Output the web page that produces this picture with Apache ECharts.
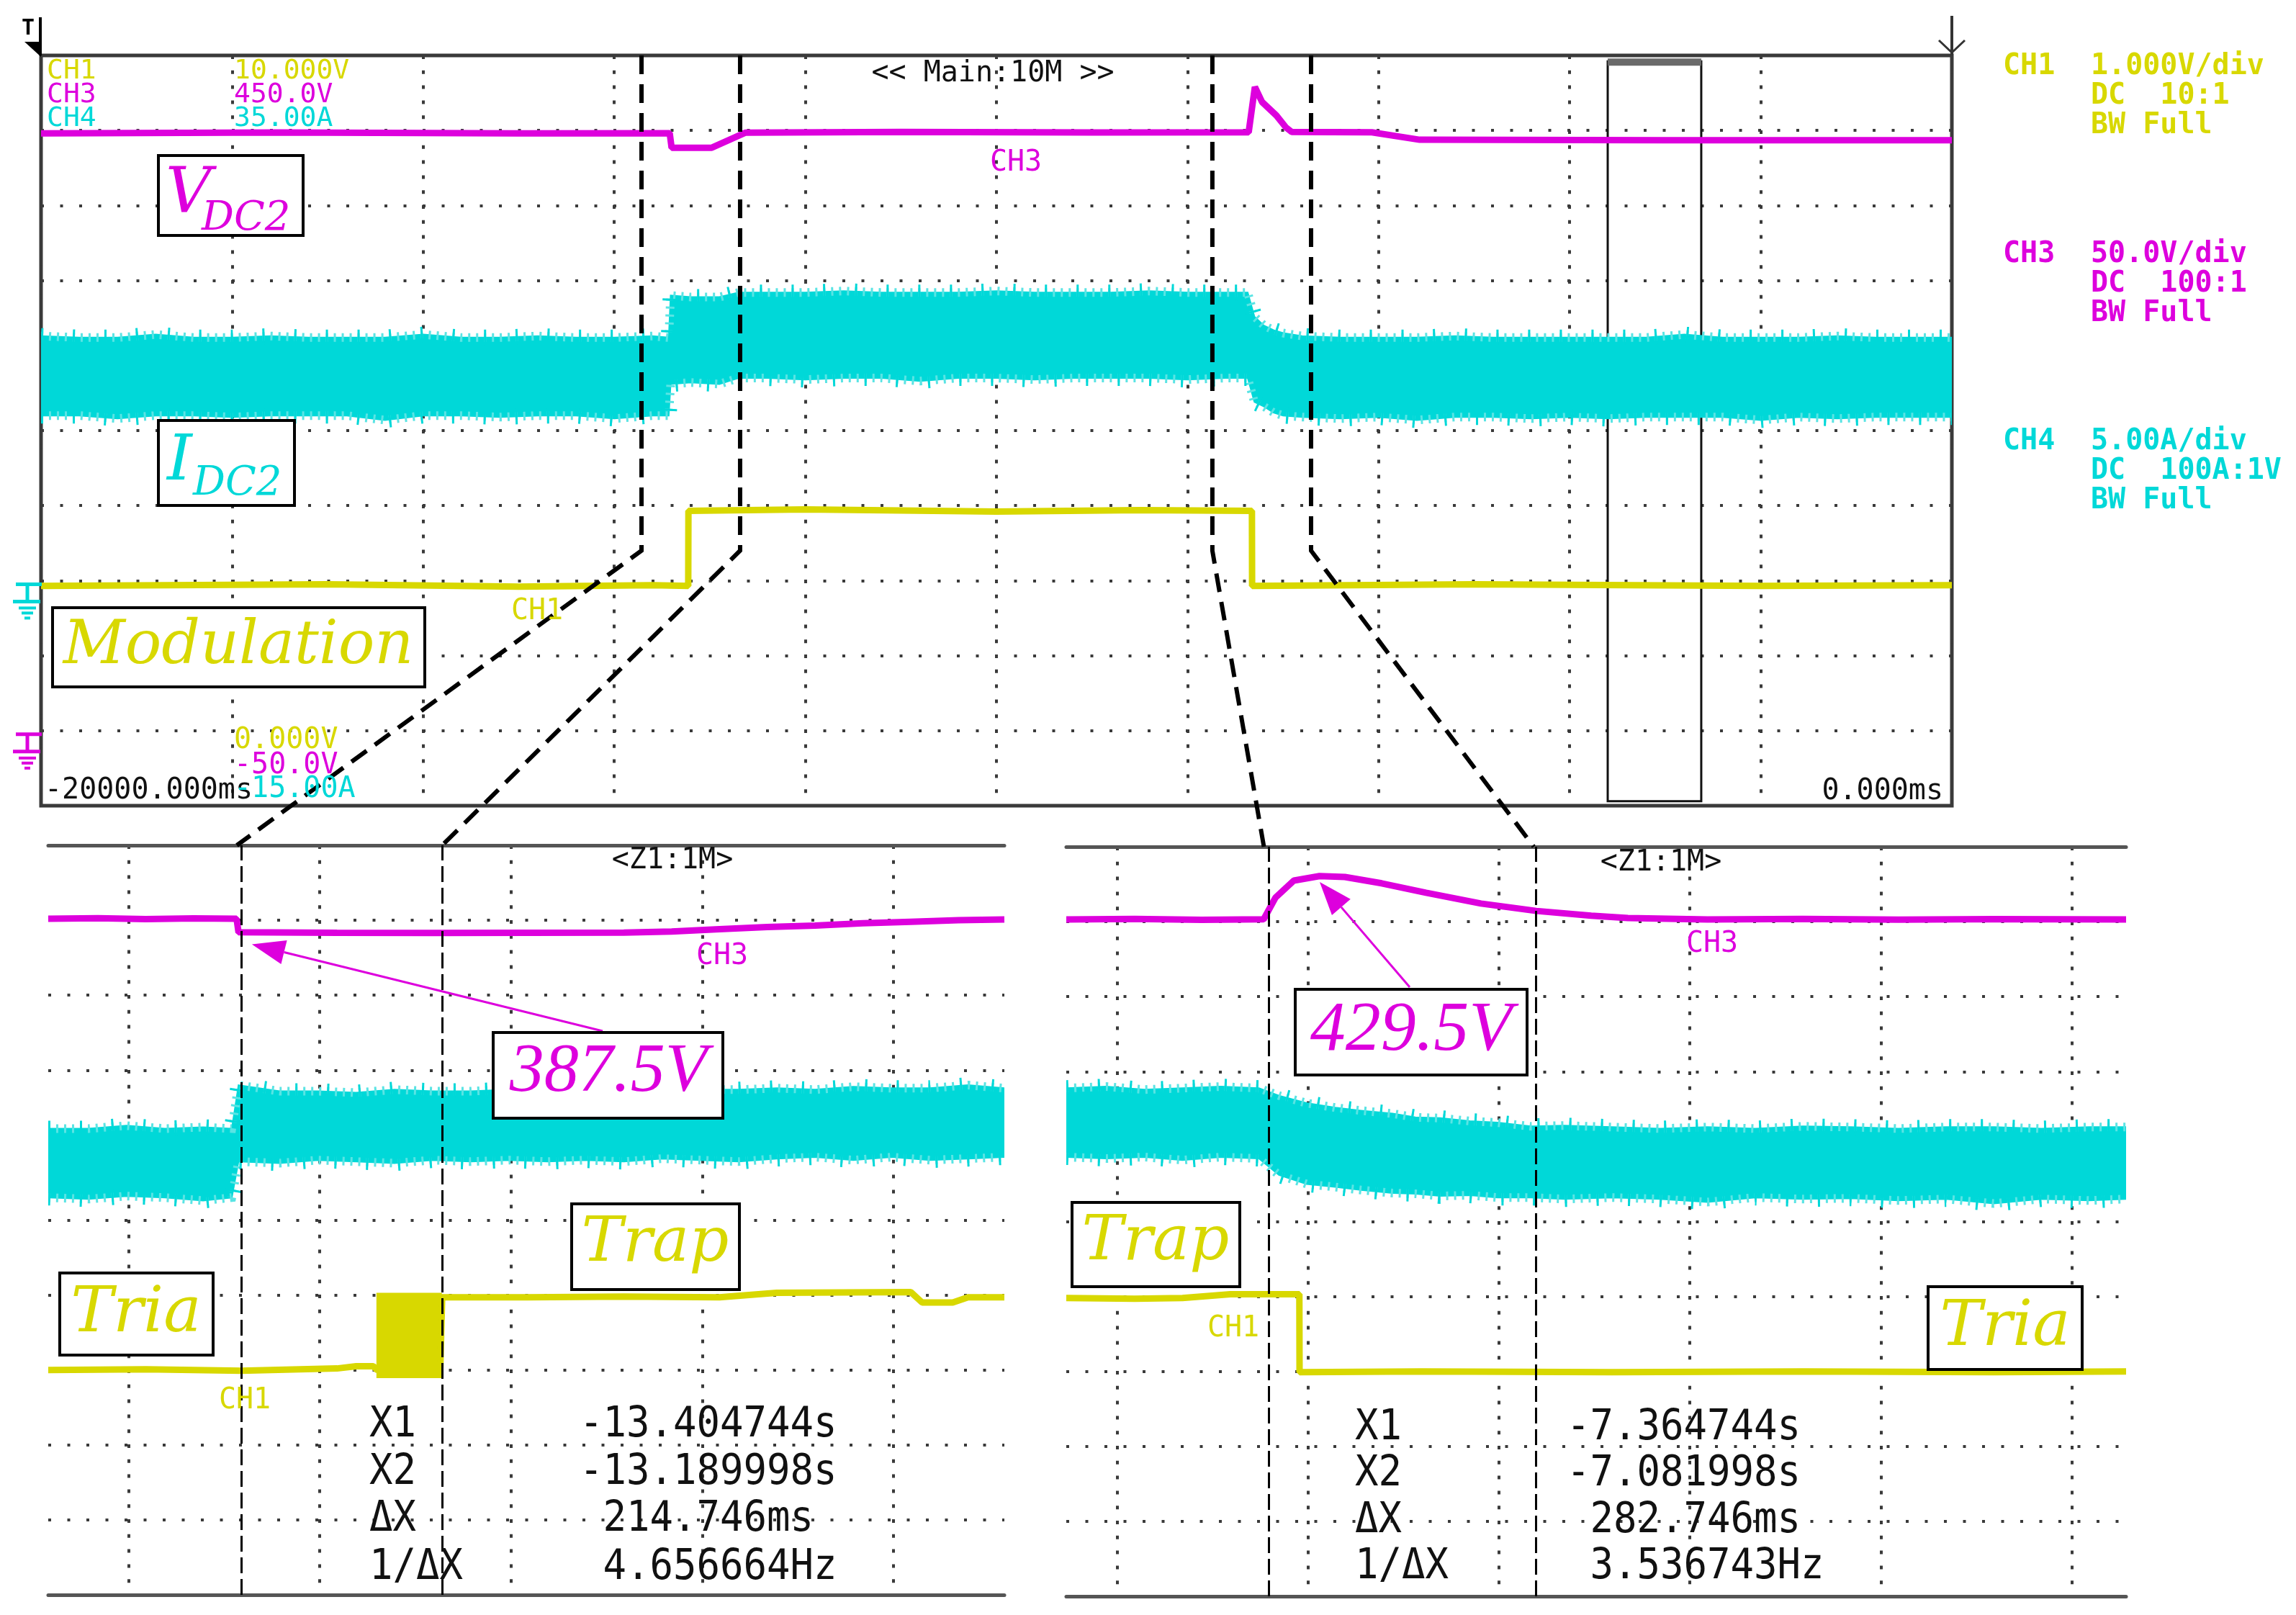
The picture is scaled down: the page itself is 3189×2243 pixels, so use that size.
<!DOCTYPE html>
<html>
<head>
<meta charset="utf-8">
<script src="https://cdn.jsdelivr.net/npm/echarts@6.0.0/dist/echarts.min.js"></script>
<style>
  html, body { margin: 0; padding: 0; background: #fff; }
  #chart { width: 3189px; height: 2243px; }
</style>
</head>
<body>
<div id="chart"></div>
<script>
// ---------- Main window: Main:10M, -20 s .. 0 s ----------
const mainRange = [-20, 0];
// CH3 V_DC2 (V)
const mainCh3T = [-20, -17.5, -15, -13.42, -13.4, -12.98, -12.63, -11, -9, -7.36, -7.295, -7.22, -7.07, -6.97, -6.91, -6.07, -5.57, -3, 0];
const mainCh3V = [398, 398.6, 398, 398.2, 388.5, 388.5, 398.5, 399, 398.6, 398.8, 429, 419, 410, 402, 399, 398.8, 393.8, 393.5, 393.5];
// CH1 modulation flag (V)
const mainCh1T = [-20, -17, -15, -13.6, -13.226, -13.224, -12, -10, -8.5, -7.326, -7.324, -5, -2, 0];
const mainCh1V = [2.93, 2.95, 2.92, 2.94, 2.93, 3.93, 3.95, 3.92, 3.94, 3.93, 2.93, 2.95, 2.93, 2.94];
// CH4 I_DC2 ripple envelope (A)
const mainCh4T = [-20, -19.6, -19.2, -18.8, -18.4, -18, -17.6, -17.2, -16.8, -16.4, -16, -15.6, -15.2, -14.8, -14.4, -14, -13.6, -13.43,
  -13.41, -13.2, -12.9, -12.7, -12.4, -12, -11.6, -11.2, -10.8, -10.4, -10, -9.6, -9.2, -8.8, -8.4, -8, -7.6, -7.37,
  -7.3, -7.2, -7.1, -7.0,
  -6.8, -6.4, -6, -5.6, -5.2, -4.8, -4.4, -4, -3.6, -3.2, -2.8, -2.4, -2, -1.6, -1.2, -0.8, -0.4, 0];
const mainCh4Hi = [16.3, 16.2, 16.2, 16.4, 16.2, 16.2, 16.3, 16.2, 16.2, 16.2, 16.4, 16.2, 16.2, 16.3, 16.2, 16.2, 16.3, 16.2,
  19.0, 18.9, 18.9, 19.2, 19.2, 19.2, 19.3, 19.2, 19.2, 19.2, 19.3, 19.2, 19.2, 19.2, 19.3, 19.2, 19.2, 19.2,
  17.6, 17.0, 16.7, 16.5,
  16.3, 16.2, 16.2, 16.2, 16.3, 16.2, 16.2, 16.2, 16.2, 16.2, 16.4, 16.2, 16.2, 16.2, 16.3, 16.2, 16.2, 16.2];
const mainCh4Lo = [11.0, 11.0, 10.8, 11.0, 11.0, 10.9, 11.0, 11.0, 11.0, 10.7, 11.0, 11.0, 10.9, 11.0, 11.0, 10.8, 11.0, 11.0,
  13.1, 13.2, 13.1, 13.5, 13.5, 13.4, 13.5, 13.5, 13.3, 13.5, 13.5, 13.4, 13.5, 13.5, 13.5, 13.4, 13.5, 13.5,
  11.9, 11.6, 11.2, 11.0,
  10.9, 10.8, 10.9, 10.7, 10.9, 10.9, 10.8, 10.9, 10.8, 10.9, 10.9, 10.9, 10.7, 10.9, 10.8, 10.9, 10.9, 10.9];
const zoomBox = [-3.602, -2.623];
const guideT = [-13.715, -12.683, -7.74, -6.707];   // hand-drawn dashed guides
const guideBend = 3.4;                              // CH1 level where guides turn

// ---------- Z1 left: Tria -> Trap ----------
const zlRange = [-13.602, -12.602];
const zlGrid = [-13.518, -13.318, -13.118, -12.918, -12.718];
const zlCursor = [-13.404744, -13.189998];
const zlCh3T = [-13.602, -13.55, -13.5, -13.45, -13.405, -13.403, -13.3, -13.2, -13.1, -13.0, -12.95, -12.9, -12.85, -12.8, -12.75, -12.7, -12.65, -12.602];
const zlCh3V = [401, 401.4, 400.8, 401.3, 401, 392, 391.6, 391.5, 391.7, 391.8, 392.5, 394, 395.5, 396.5, 398, 399, 400, 400.5];
const zlCh1T = [-13.602, -13.5, -13.4, -13.3, -13.28, -13.262, -13.258, -13.192, -13.19, -13.1, -13.0, -12.9, -12.84, -12.7, -12.688, -12.656, -12.64, -12.602];
const zlCh1V = [3.0, 3.01, 2.99, 3.02, 3.05, 3.05, 3.0, 3.0, 3.97, 3.97, 3.98, 3.97, 4.03, 4.04, 3.9, 3.9, 3.97, 3.97];
const zlBurstT = [-13.258, -13.191];
const zlBurstLo = [2.9, 2.9];
const zlBurstHi = [4.02, 4.02];
const zlCh4T = [-13.602, -13.56, -13.52, -13.48, -13.44, -13.41, -13.403, -13.36, -13.32, -13.28, -13.24, -13.2, -13.16, -13.12,
  -13.08, -13.04, -13, -12.96, -12.92, -12.88, -12.84, -12.8, -12.76, -12.72, -12.68, -12.64, -12.602];
const zlCh4Hi = [16.1, 16.1, 16.3, 16.1, 16.2, 16.1, 19.0, 18.6, 18.6, 18.5, 18.7, 18.6, 18.6, 18.7,
  18.6, 18.6, 18.7, 18.6, 18.7, 18.7, 18.8, 18.7, 18.9, 18.8, 18.8, 19.0, 18.8];
const zlCh4Lo = [11.5, 11.4, 11.6, 11.5, 11.3, 11.5, 13.9, 13.8, 14.0, 13.9, 13.8, 14.0, 13.9, 14.0,
  13.9, 14.0, 13.9, 14.1, 14.0, 13.9, 14.1, 14.2, 14.0, 14.2, 14.0, 14.1, 14.2];
const zlArrowTip = [-13.389, 384];
const zlReadout = ['-13.404744s', '-13.189998s', ' 214.746ms', ' 4.656664Hz'];

// ---------- Z1 right: Trap -> Tria ----------
const zrRange = [-7.5718, -6.4614];
const zrGrid = [-7.5184, -7.3184, -7.1184, -6.9184, -6.7184, -6.5184];
const zrCursor = [-7.364744, -7.081998];
const zrCh3T = [-7.5718, -7.5, -7.43, -7.365, -7.3527, -7.3334, -7.3065, -7.2799, -7.2414, -7.1949, -7.1373, -7.0794, -7.0218, -6.9834, -6.9, -6.8, -6.7, -6.6, -6.4614];
const zrCh3V = [401.5, 401.8, 401.3, 401.6, 416, 427.4, 430.4, 429.8, 425.6, 419.3, 412.1, 407.2, 404, 402.4, 401.5, 401.8, 401.4, 401.7, 401.5];
const zrCh1T = [-7.5718, -7.5, -7.45, -7.4, -7.3276, -7.3274, -7.2, -7.0, -6.8, -6.6, -6.4614];
const zrCh1V = [3.98, 3.97, 3.98, 4.03, 4.03, 2.99, 3.0, 2.99, 3.0, 2.99, 3.0];
const zrCh4T = [-7.5718, -7.53, -7.49, -7.45, -7.41, -7.37, -7.349, -7.32, -7.29, -7.263, -7.23, -7.206, -7.18, -7.149, -7.12,
  -7.085, -7.05, -7.0, -6.95, -6.9, -6.85, -6.8, -6.75, -6.7, -6.65, -6.6, -6.55, -6.5, -6.4614];
const zrCh4Hi = [18.9, 19.0, 18.8, 18.9, 19.0, 18.9, 18.4, 17.9, 17.6, 17.4, 17.2, 16.95, 16.9, 16.7, 16.6,
  16.35, 16.4, 16.3, 16.2, 16.3, 16.2, 16.35, 16.3, 16.2, 16.3, 16.3, 16.2, 16.3, 16.3];
const zrCh4Lo = [14.3, 14.2, 14.3, 14.1, 14.3, 14.2, 13.1, 12.5, 12.3, 12.1, 11.9, 11.85, 11.7, 11.75, 11.6,
  11.6, 11.5, 11.6, 11.5, 11.3, 11.6, 11.5, 11.55, 11.4, 11.5, 11.2, 11.5, 11.4, 11.5];
const zrArrowTip = [-7.3063, 426.5];
const zrReadout = ['-7.364744s', '-7.081998s', ' 282.746ms', ' 3.536743Hz'];

const readoutLabels = ['X1', 'X2', 'ΔX', '1/ΔX'];

// ---------- styling ----------
const YEL = '#d8d800';
const MAG = '#dd00dd';
const CYA = '#00d8d8';
const CYA_FRINGE = '#5ae4e4';
const MONO = '"DejaVu Sans Mono", "Liberation Mono", monospace';
const dotRow = { color: '#3a3a3a', width: 4, type: [4, 22.5] };
const dotCol = { color: '#3a3a3a', width: 4, type: [5, 15.8] };
const panelEdge = { show: true, onZero: false, lineStyle: { color: '#555', width: 5 } };

const chart = echarts.init(document.getElementById('chart'));

const zip = (t, v) => t.map((x, i) => [x, v[i]]);

function trace(xi, yi, t, v, color, width) {
  return {
    type: 'line', xAxisIndex: xi, yAxisIndex: yi, data: zip(t, v),
    symbol: 'none', silent: true, z: 3, lineStyle: { color, width }
  };
}

// filled envelope between lo and hi, drawn as one polygon through the axes;
// noisy traces get a comb-like fringe on both edges
function band(xi, yi, t, lo, hi, color, fuzzy) {
  return {
    type: 'custom', xAxisIndex: xi, yAxisIndex: yi, silent: true, z: 2, clip: true,
    data: t.map((x, i) => [x, lo[i], hi[i]]),
    encode: { x: 0, y: [1, 2] },
    renderItem: (params, api) => {
      if (params.dataIndexInside !== 0) return null;
      const n = params.dataInsideLength;
      const top = [], bot = [];
      for (let j = 0; j < n; j++) {
        top.push(api.coord([api.value(0, j), api.value(2, j)]));
        bot.push(api.coord([api.value(0, j), api.value(1, j)]));
      }
      const children = [{ type: 'polygon', shape: { points: top.concat(bot.slice().reverse()) },
        style: { fill: color, stroke: color, lineWidth: 2 } }];
      if (fuzzy) {
        [top, bot].forEach(edge => {
          children.push({ type: 'polyline', shape: { points: edge },
            style: { fill: null, stroke: CYA_FRINGE, lineWidth: 12, lineDash: [3, 8] } });
          children.push({ type: 'polyline', shape: { points: edge },
            style: { fill: null, stroke: color, lineWidth: 22, lineDash: [3, 41] } });
        });
      }
      return { type: 'group', children };
    }
  };
}

function cursors(vals) {
  return {
    silent: true, symbol: 'none', label: { show: false },
    lineStyle: { color: '#000', width: 3, type: [22, 8] },
    data: vals.map(v => ({ xAxis: v }))
  };
}

const hide = { axisLine: { show: false }, axisTick: { show: false }, axisLabel: { show: false } };

// y axes per grid: CH1 (0..10 V), CH3 (-50..450 V), CH4 (-15..35 A)
const yAxes = [];
[0, 1, 2].forEach(g => {
  yAxes.push({ type: 'value', gridIndex: g, min: 0, max: 10, interval: 1, ...hide, splitLine: { show: true, lineStyle: dotRow } });
  yAxes.push({ type: 'value', gridIndex: g, min: -50, max: 450, show: false, splitLine: { show: false } });
  yAxes.push({ type: 'value', gridIndex: g, min: -15, max: 35, show: false, splitLine: { show: false } });
});

const zlYel = trace(1, 3, zlCh1T, zlCh1V, YEL, 9);
zlYel.markLine = cursors(zlCursor);
zlYel.z = 4;
const zrYel = trace(2, 6, zrCh1T, zrCh1V, YEL, 9);
zrYel.markLine = cursors(zrCursor);
zrYel.z = 4;
const mainYel = trace(0, 0, mainCh1T, mainCh1V, YEL, 9);
mainYel.markArea = {
  silent: true,
  itemStyle: { color: 'rgba(0,0,0,0)', borderColor: '#111', borderWidth: 3 },
  data: [[{ xAxis: zoomBox[0], yAxis: 9.92 }, { xAxis: zoomBox[1], yAxis: 0.06 }]]
};

const option = {
  animation: false,
  backgroundColor: '#fff',
  grid: [
    { left: 57, top: 77, width: 2654, height: 1042, show: true, borderColor: '#3a3a3a', borderWidth: 5 },
    { left: 67, top: 1174, width: 1328, height: 1041 },
    { left: 1481, top: 1176, width: 1472, height: 1041 }
  ],
  xAxis: [
    { type: 'value', gridIndex: 0, min: mainRange[0], max: mainRange[1], interval: 2, ...hide,
      splitLine: { show: true, lineStyle: dotCol } },
    { type: 'value', gridIndex: 1, min: zlRange[0], max: zlRange[1], axisLine: panelEdge,
      axisTick: { show: false, customValues: zlGrid }, axisLabel: { show: false },
      splitLine: { show: true, lineStyle: dotCol } },
    { type: 'value', gridIndex: 2, min: zrRange[0], max: zrRange[1], axisLine: panelEdge,
      axisTick: { show: false, customValues: zrGrid }, axisLabel: { show: false },
      splitLine: { show: true, lineStyle: dotCol } },
    { type: 'value', gridIndex: 1, position: 'top', min: zlRange[0], max: zlRange[1], axisLine: panelEdge,
      axisTick: { show: false }, axisLabel: { show: false }, splitLine: { show: false } },
    { type: 'value', gridIndex: 2, position: 'top', min: zrRange[0], max: zrRange[1], axisLine: panelEdge,
      axisTick: { show: false }, axisLabel: { show: false }, splitLine: { show: false } }
  ],
  yAxis: yAxes,
  series: [
    band(0, 2, mainCh4T, mainCh4Lo, mainCh4Hi, CYA, true),
    trace(0, 1, mainCh3T, mainCh3V, MAG, 9),
    mainYel,
    band(1, 5, zlCh4T, zlCh4Lo, zlCh4Hi, CYA, true),
    trace(1, 4, zlCh3T, zlCh3V, MAG, 9),
    band(1, 3, zlBurstT, zlBurstLo, zlBurstHi, YEL, false),
    zlYel,
    band(2, 8, zrCh4T, zrCh4Lo, zrCh4Hi, CYA, true),
    trace(2, 7, zrCh3T, zrCh3V, MAG, 9),
    zrYel
  ]
};
chart.setOption(option);

// ---------- annotations ----------
const P = (g, ch, t, v) => chart.convertToPixel({ xAxisIndex: g, yAxisIndex: g * 3 + ch }, [t, v]);

function text(x, y, s, fill, font, align, sy) {
  return { type: 'text', x, y, scaleY: sy || 1, z: 20, silent: true,
    style: { text: s, fill, font, textAlign: align || 'left', textVerticalAlign: 'middle' } };
}
function box(x, y, w, h) {
  return { type: 'rect', z: 15, silent: true, shape: { x, y, width: w, height: h },
    style: { fill: '#fff', stroke: '#000', lineWidth: 4 } };
}
function seg(x1, y1, x2, y2, color, w) {
  return { type: 'line', z: 12, silent: true, shape: { x1, y1, x2, y2 }, style: { stroke: color, lineWidth: w } };
}
function arrow(tail, tip, color) {
  const dx = tip[0] - tail[0], dy = tip[1] - tail[1];
  const L = Math.hypot(dx, dy), ux = dx / L, uy = dy / L;
  const bx = tip[0] - ux * 46, by = tip[1] - uy * 46;
  return [
    seg(tail[0], tail[1], bx, by, color, 3),
    { type: 'polygon', z: 12, silent: true,
      shape: { points: [tip, [bx - uy * 17, by + ux * 17], [bx + uy * 17, by - ux * 17]] },
      style: { fill: color } }
  ];
}
function ground(x0, y0, color) {
  return [
    seg(x0 + 4, y0, x0 + 40, y0, color, 5), seg(x0 + 20, y0, x0 + 20, y0 + 24, color, 5),
    seg(x0, y0 + 24, x0 + 38, y0 + 24, color, 5), seg(x0 + 8, y0 + 33, x0 + 32, y0 + 33, color, 4),
    seg(x0 + 12, y0 + 40, x0 + 28, y0 + 40, color, 4), seg(x0 + 16, y0 + 47, x0 + 24, y0 + 47, color, 4)
  ];
}

const small = '38px ' + MONO;
const mid = '40px ' + MONO;
const info = 'bold 40px ' + MONO;
const meas = '54px ' + MONO;
const word = (s) => 'italic ' + s + 'px "DejaVu Serif", serif';
const num = (s) => 'italic ' + s + 'px "Liberation Serif", serif';

const els = [];

// dashed guides from the main window to the zoom cursors
const guideTargets = [[1, zlCursor[0]], [1, zlCursor[1]], [2, zrCursor[0]], [2, zrCursor[1]]];
guideT.forEach((t, i) => {
  const a = P(0, 0, t, 10), b = P(0, 0, t, guideBend);
  const c = P(guideTargets[i][0], 0, guideTargets[i][1], 10);
  els.push({ type: 'polyline', z: 8, silent: true, shape: { points: [a, b, c] },
    style: { stroke: '#000', lineWidth: 6, lineDash: [26, 14], fill: null } });
});

// zoom window indicator bar on top of the box
const zb0 = P(0, 0, zoomBox[0], 9.92), zb1 = P(0, 0, zoomBox[1], 9.92);
els.push({ type: 'rect', z: 11, silent: true, shape: { x: zb0[0], y: zb0[1] - 4, width: zb1[0] - zb0[0], height: 10 },
  style: { fill: '#6a6a6a' } });

// trigger / end markers and channel grounds
els.push(text(39, 40, 'T', '#000', 'bold 30px ' + MONO, 'center'));
els.push(seg(56, 24, 56, 77, '#000', 4));
els.push({ type: 'polygon', z: 12, silent: true, shape: { points: [[34, 58], [57, 58], [57, 79]] }, style: { fill: '#000' } });
els.push(seg(2711, 22, 2711, 77, '#333', 4));
els.push({ type: 'polyline', z: 12, silent: true, shape: { points: [[2693, 56], [2711, 73], [2729, 56]] },
  style: { stroke: '#333', lineWidth: 3, fill: null } });
els.push(...ground(18, P(0, 1, -20, 0)[1] + 5, MAG));
els.push(...ground(18, P(0, 2, -20, 0)[1] + 5, CYA));

// main window scope texts
els.push(text(65, 99, 'CH1', YEL, small), text(325, 99, '10.000V', YEL, small));
els.push(text(65, 132, 'CH3', MAG, small), text(325, 132, '450.0V', MAG, small));
els.push(text(65, 165, 'CH4', CYA, small), text(325, 165, '35.00A', CYA, small));
els.push(text(1379, 103, '<< Main:10M >>', '#111', mid, 'center'));
els.push(text(1411, 227, 'CH3', MAG, mid, 'center'));
els.push(text(746, 850, 'CH1', YEL, mid, 'center'));
els.push(text(62, 1099, '-20000.000ms', '#111', mid));
els.push(text(325, 1029, '0.000V', YEL, mid), text(325, 1064, '-50.0V', MAG, mid), text(325, 1097, '-15.00A', CYA, mid));
els.push(text(2699, 1100, '0.000ms', '#111', mid, 'right'));

// channel settings on the right
const infoRows = [
  [YEL, 93, ['CH1', '1.000V/div'], ['', 'DC  10:1'], ['', 'BW Full']],
  [MAG, 354, ['CH3', '50.0V/div'], ['', 'DC  100:1'], ['', 'BW Full']],
  [CYA, 614, ['CH4', '5.00A/div'], ['', 'DC  100A:1V'], ['', 'BW Full']]
];
infoRows.forEach(r => {
  [r[2], r[3], r[4]].forEach((row, k) => {
    const y = r[1] + k * 41;
    if (row[0]) els.push(text(2782, y, row[0], r[0], info));
    els.push(text(2904, y, row[1], r[0], info));
  });
});

// main window annotation boxes
els.push(box(220, 216, 201, 111));
els.push(text(230, 272, 'V', MAG, word(88)), text(280, 304, 'DC2', MAG, word(56)));
els.push(box(220, 584, 189, 118));
els.push(text(232, 643, 'I', CYA, word(88)), text(268, 672, 'DC2', CYA, word(56)));
els.push(box(73, 844, 517, 110));
els.push(text(331, 899, 'Modulation', YEL, word(84), 'center'));

// zoom panel texts
els.push(text(934, 1196, '<Z1:1M>', '#111', mid, 'center'));
els.push(text(2307, 1199, '<Z1:1M>', '#111', mid, 'center'));
els.push(text(1003, 1329, 'CH3', MAG, mid, 'center'), text(340, 1946, 'CH1', YEL, mid, 'center'));
els.push(text(2378, 1312, 'CH3', MAG, mid, 'center'), text(1713, 1846, 'CH1', YEL, mid, 'center'));
const zlRows = [1980, 2046, 2111, 2178];
const zrRows = [1984, 2048, 2113, 2177];
readoutLabels.forEach((l, i) => {
  els.push(text(513, zlRows[i], l, '#111', meas, 'left', 1.1), text(805, zlRows[i], zlReadout[i], '#111', meas, 'left', 1.1));
  els.push(text(1882, zrRows[i], l, '#111', meas, 'left', 1.1), text(2176, zrRows[i], zrReadout[i], '#111', meas, 'left', 1.1));
});

// zoom panel annotation boxes and arrows
els.push(...arrow([837, 1432], P(1, 1, zlArrowTip[0], zlArrowTip[1]), MAG));
els.push(box(685, 1434, 319, 119), text(845, 1490, '387.5V', MAG, num(96), 'center'));
els.push(box(794, 1672, 233, 119), text(910, 1729, 'Trap', YEL, word(86), 'center'));
els.push(box(83, 1768, 213, 114), text(189, 1826, 'Tria', YEL, word(88), 'center'));
els.push(...arrow([1958, 1371], P(2, 1, zrArrowTip[0], zrArrowTip[1]), MAG));
els.push(box(1799, 1374, 322, 119), text(1960, 1432, '429.5V', MAG, num(98), 'center'));
els.push(box(1489, 1670, 233, 117), text(1605, 1727, 'Trap', YEL, word(86), 'center'));
els.push(box(2678, 1787, 214, 115), text(2785, 1845, 'Tria', YEL, word(88), 'center'));

chart.setOption({ graphic: { elements: els } });
</script>
</body>
</html>
